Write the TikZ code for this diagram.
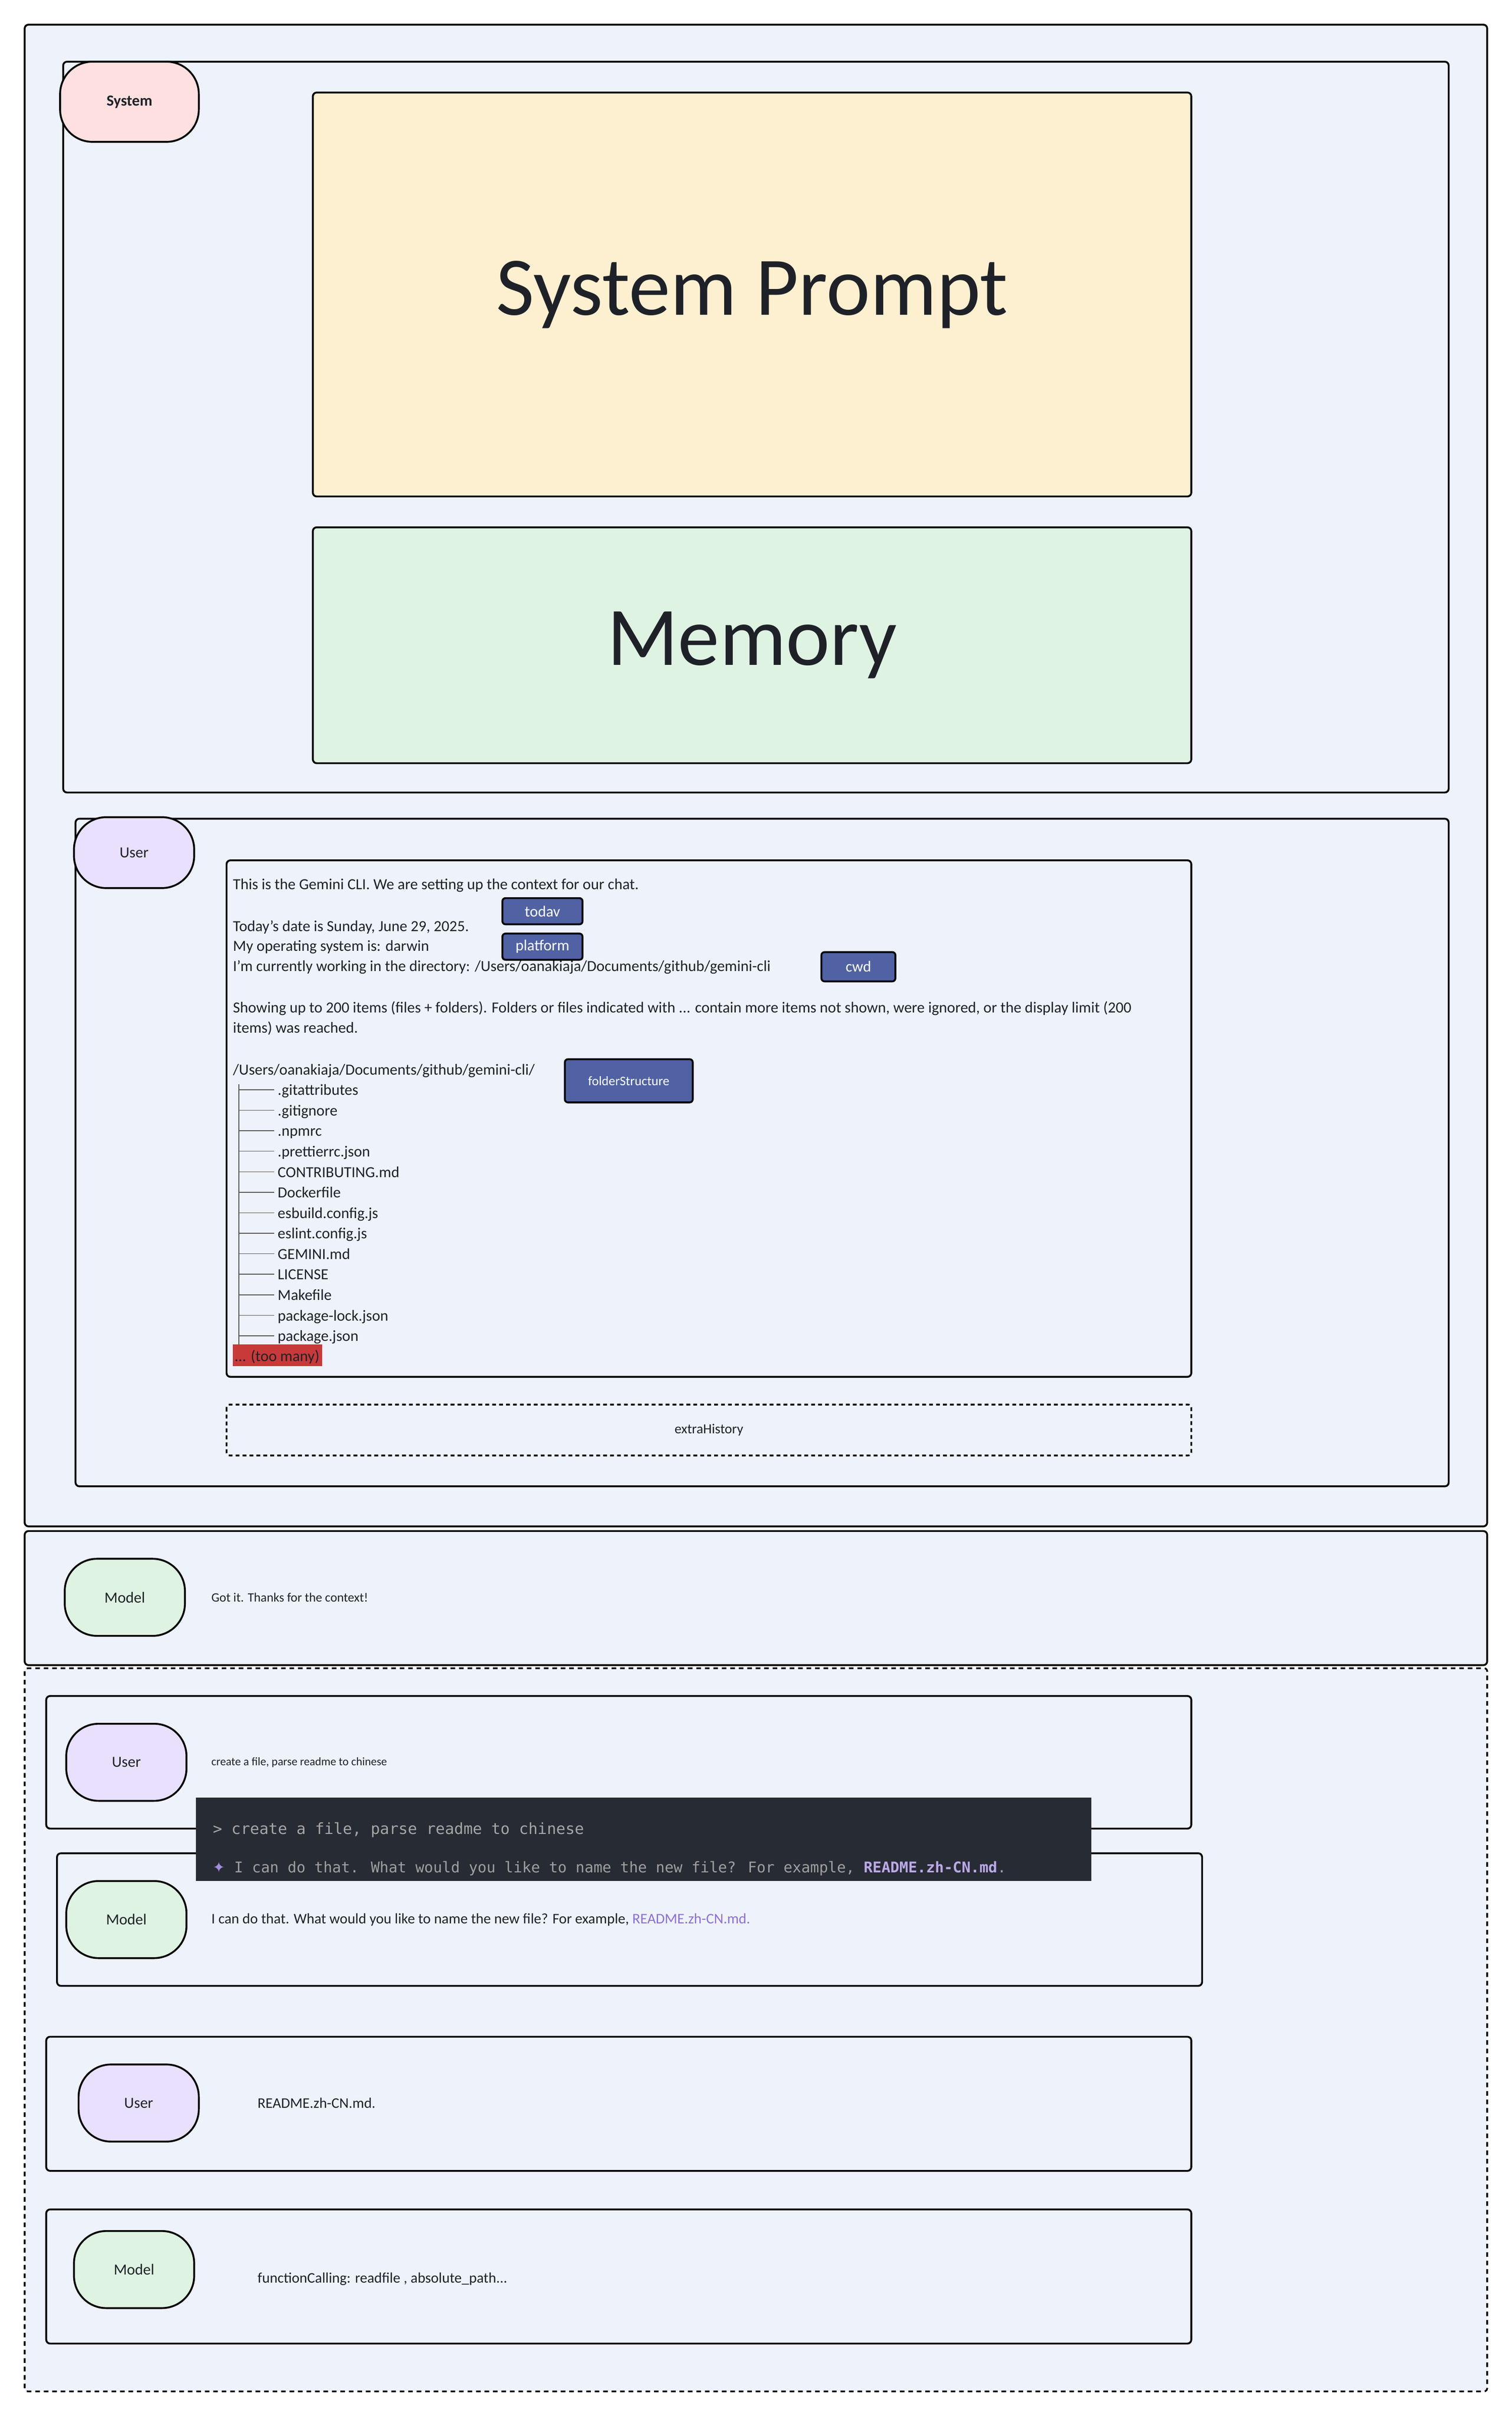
\documentclass[tikz,border=0pt]{standalone}
\usepackage{fontspec}
\setmainfont{Carlito}
\newfontfamily\monof{DejaVu Sans Mono}
\newfontfamily\symf{DejaVu Sans}
\definecolor{bgc}{HTML}{EEF2FB}
\definecolor{pinkc}{HTML}{FFE0E0}
\definecolor{yelc}{HTML}{FDF0D0}
\definecolor{grnc}{HTML}{DFF3E3}
\definecolor{purc}{HTML}{E9E0FD}
\definecolor{tagc}{HTML}{5062A4}
\definecolor{darkc}{HTML}{272B33}
\definecolor{txtc}{HTML}{1E2228}
\definecolor{linkc}{HTML}{8E6FD8}
\definecolor{redc}{HTML}{C83A3A}
\begin{document}
\begin{tikzpicture}[x=1pt,y=-1pt,
 box/.style={draw=black,line width=1.2pt,rounded corners=2.5pt,fill=bgc},
 pill/.style={draw=black,line width=1.2pt,rounded corners=21pt,minimum width=#1,align=center,font=\fontsize{10}{12}\selectfont,text=txtc},
 tag/.style={draw=black,line width=1.2pt,rounded corners=2pt,fill=tagc,text=white,font=\fontsize{10}{12}\selectfont,inner sep=0pt},
 ln/.style={anchor=base west,inner sep=0pt,text=txtc,font=\fontsize{10}{12}\selectfont},
 sm/.style={anchor=west,inner sep=0pt,text=txtc,font=\fontsize{8.3}{10}\selectfont}]
\useasboundingbox (0,0) rectangle (981,1567);
\fill[white] (0,0) rectangle (981,1567);
% outer
\draw[box] (16,16) rectangle (965,990);
\draw[box] (41,40) rectangle (940,514);
\node[pill=90pt,fill=pinkc,minimum height=52pt,font=\bfseries\fontsize{10}{12}\selectfont] (sys) at (84,66) {System};
\draw[box,fill=yelc] (203,60) rectangle node[text=txtc,font=\fontsize{54}{60}\selectfont] (sp) {System Prompt} (773,322);
\draw[box,fill=grnc] (203,342) rectangle node[text=txtc,font=\fontsize{54}{60}\selectfont] (mem) {Memory} (773,495);
% user
\draw[box] (49,531) rectangle (940,964);
\node[pill=78pt,fill=purc,minimum height=46pt] (u1) at (87,553) {User};
\draw[box] (147,558) rectangle (773,893);
\node[ln] (l1) at (151,577) {This is the Gemini CLI. We are setting up the context for our chat.};
\node[ln] (l2) at (151,604) {Today's date is Sunday, June 29, 2025.};
\node[ln] (l3) at (151,617) {My operating system is: darwin};
\node[ln] (l4) at (151,630) {I'm currently working in the directory: /Users/oanakiaja/Documents/github/gemini-cli};
\node[ln] (l5) at (151,657) {Showing up to 200 items (files + folders). Folders or files indicated with ... contain more items not shown, were ignored, or the display limit (200};
\node[ln] (l6) at (151,670) {items) was reached.};
\node[ln] (l7) at (151,697) {/Users/oanakiaja/Documents/github/gemini-cli/};
\foreach \t [count=\i] in {.gitattributes,.gitignore,.npmrc,.prettierrc.json,CONTRIBUTING.md,Dockerfile,esbuild.config.js,eslint.config.js,GEMINI.md,LICENSE,Makefile,package-lock.json,package.json}{
  \node[ln] (f\i) at (180,{697+13.3*\i}) {\t};
  \draw[gray!70!black,line width=0.5pt] (155,{690+13.3*\i}) -- (155,{704+13.3*\i});
  \draw[gray!70!black,line width=0.5pt] (155,{697+13.3*\i-3.5}) -- (178,{697+13.3*\i-3.5});
}
\fill[redc] (151,872) rectangle (209,886);
\node[ln] (tm) at (152,883) {... (too many)};
\node[tag,minimum width=52pt,minimum height=17pt] (today) at (352,591) {todav};
\node[tag,minimum width=52pt,minimum height=17pt] (plat) at (352,614) {platform};
\node[tag,minimum width=48pt,minimum height=19pt] (cwd) at (557,627) {cwd};
\node[tag,minimum width=83pt,minimum height=28pt,font=\fontsize{8.5}{10}\selectfont] (fs) at (408,701) {folderStructure};
\draw[black,line width=1.1pt,dash pattern=on 2.5pt off 2pt,rounded corners=2pt,fill=bgc] (147,911) rectangle node[text=txtc,font=\fontsize{9}{10}\selectfont] (eh) {extraHistory} (773,944);
% model
\draw[box] (16,993) rectangle (965,1080);
\node[pill=78pt,fill=grnc,minimum height=50pt] (m1) at (81,1036) {Model};
\node[sm] (t1) at (137,1036) {Got it. Thanks for the context!};
% history
\draw[black,line width=1.1pt,dash pattern=on 3pt off 2.5pt,rounded corners=2pt,fill=bgc] (16,1082) rectangle (965,1551);
\draw[box] (30,1100) rectangle (773,1186);
\node[pill=78pt,fill=purc,minimum height=50pt] (u2) at (82,1143) {User};
\node[sm,font=\fontsize{7.5}{8}\selectfont] (t2) at (137,1143) {create a file, parse readme to chinese};
\draw[box] (37,1202) rectangle (780,1288);
\node[pill=78pt,fill=grnc,minimum height=50pt] (m2) at (82,1245) {Model};
\node[sm,font=\fontsize{9.5}{11}\selectfont] (t3) at (137,1245) {I can do that. What would you like to name the new file? For example, \textcolor{linkc}{README.zh-CN.md.}};
\draw[box] (30,1321) rectangle (773,1408);
\node[pill=78pt,fill=purc,minimum height=50pt] (u3) at (90,1364) {User};
\node[sm,font=\fontsize{9.5}{11}\selectfont] (t4) at (167,1364) {README.zh-CN.md.};
\draw[box] (30,1433) rectangle (773,1520);
\node[pill=78pt,fill=grnc,minimum height=50pt] (m3) at (87,1472) {Model};
\node[sm,font=\fontsize{9.5}{11}\selectfont] (t5) at (167,1478) {functionCalling: readfile , absolute\_path...};
% terminal
\fill[darkc] (127,1166) rectangle (708,1220);
\node[anchor=west,inner sep=0pt,text=gray!70,font=\monof\fontsize{10}{11}\selectfont] (c1) at (138,1187) {> create a file, parse readme to chinese};
\node[anchor=west,inner sep=0pt,text=gray!75,font=\monof\fontsize{9.6}{11}\selectfont] (c2) at (138,1212) {{\symf\textcolor{linkc!80!white}{✦}} I can do that. What would you like to name the new file? For example, \textcolor{linkc!60!white}{\bfseries README.zh-CN.md}.};
\end{tikzpicture}
\end{document}
